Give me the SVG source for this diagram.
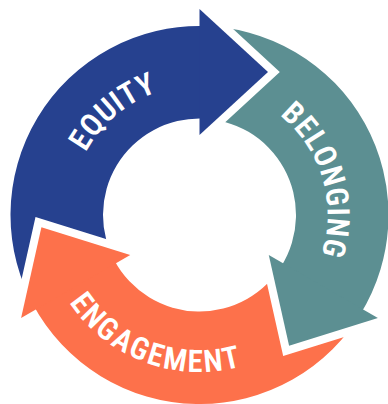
<svg xmlns="http://www.w3.org/2000/svg" width="388" height="404" viewBox="0 0 388 404">
  <style>
    .cut { fill: #000; stroke: #000; stroke-width: 16; stroke-linejoin: miter; stroke-miterlimit: 10; }
    .lbl { fill: #ffffff; font-family: "Roboto Condensed", Roboto, "Open Sans", sans-serif; font-stretch: condensed; font-weight: 600; font-size: 31px; text-anchor: middle; }
    .blue { fill: #26418f; }
    .teal { fill: #5c8f92; }
    .orange { fill: #fd714b; }
  </style>
  <defs>
    <mask id="m-blue" maskUnits="userSpaceOnUse" x="0" y="0" width="388" height="404">
      <rect width="388" height="404" fill="#fff"/>
      <polygon class="cut" points="21.1,318 41.41,227.18 130.22,255"/>
    </mask>
    <mask id="m-teal" maskUnits="userSpaceOnUse" x="0" y="0" width="388" height="404">
      <rect width="388" height="404" fill="#fff"/>
      <polygon class="cut" points="199.5,9 268,72 199.5,135"/>
    </mask>
    <mask id="m-orange" maskUnits="userSpaceOnUse" x="0" y="0" width="388" height="404">
      <rect width="388" height="404" fill="#fff"/>
      <polygon class="cut" points="377.9,318 289.09,345.82 268.78,255"/>
    </mask>
    <path id="p-eq" d="M69.52,212.73 A130,130 0 0 1 219.84,86.60"/>
    <path id="p-bel" d="M250.54,97.62 A128,128 0 0 1 306.24,285.65"/>
    <path id="p-eng" d="M51.97,268.70 A157,157 0 0 0 278,350.97"/>
  </defs>
  <rect width="388" height="404" fill="#ffffff"/>
  <g id="equity">
    <path class="blue" mask="url(#m-blue)" d="M35.82,309.5 A189,189 0 0 1 206.10,26.12 L202.87,118.56 A96.5,96.5 0 0 0 115.93,263.25 Z"/>
    <polygon class="blue" points="199.5,9 268,72 199.5,135"/>
    <text class="lbl" letter-spacing="0.5"><textPath href="#p-eq" startOffset="50%">EQUITY</textPath></text>
  </g>
  <g id="belonging">
    <path class="teal" mask="url(#m-teal)" d="M199.5,26 A189,189 0 0 1 359.78,315.15 L281.34,266.14 A96.5,96.5 0 0 0 199.5,118.5 Z"/>
    <polygon class="teal" points="377.9,318 289.09,345.82 268.78,255"/>
    <text class="lbl" letter-spacing="0.8"><textPath href="#p-bel" startOffset="50%">BELONGING</textPath></text>
  </g>
  <g id="engagement">
    <path class="orange" mask="url(#m-orange)" d="M363.18,309.5 A189,189 0 0 1 32.62,303.73 L114.30,260.30 A96.5,96.5 0 0 0 283.07,263.25 Z"/>
    <polygon class="orange" points="21.1,318 41.41,227.18 130.22,255"/>
    <text class="lbl" letter-spacing="2"><textPath href="#p-eng" startOffset="50%">ENGAGEMENT</textPath></text>
  </g>
</svg>
